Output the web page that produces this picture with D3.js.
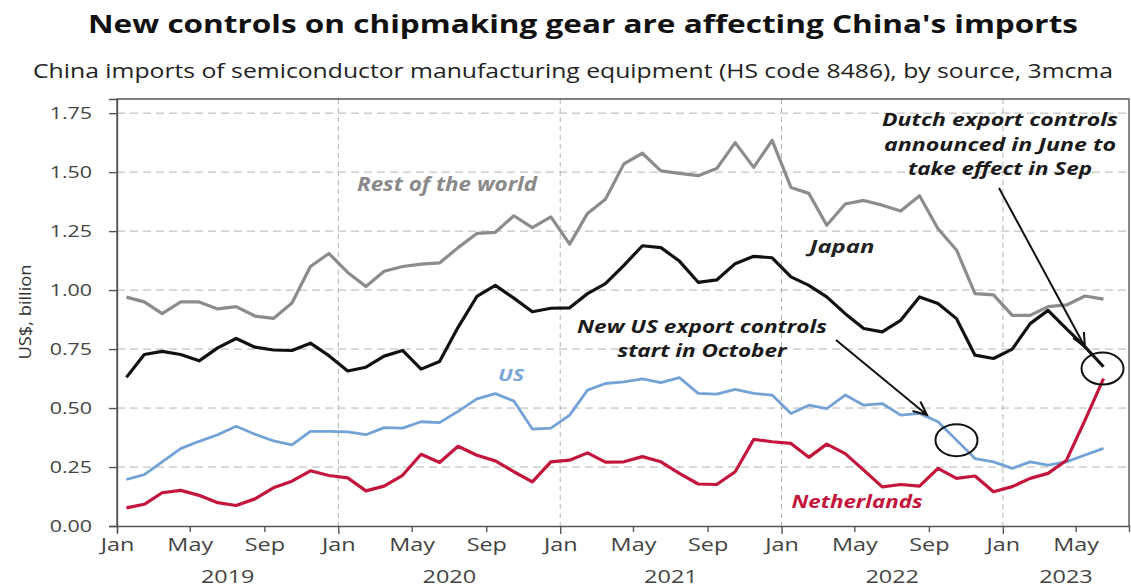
<!DOCTYPE html>
<html><head><meta charset="utf-8">
<script src="https://cdn.jsdelivr.net/npm/d3@7"></script>
<style>
body{margin:0;background:#fff;}
text{font-family:"Open Sans",sans-serif;}
</style>
</head><body>
<svg id="chart" width="1131" height="587"></svg>
<script>
// ---------- DATA ----------
const firstMonth = "2019-01";
const lastMonth = "2023-06";
const restOfWorld = [0.97,0.95,0.90,0.95,0.95,0.92,0.93,0.89,0.88,0.945,1.10,1.155,
  1.075,1.015,1.08,1.10,1.11,1.115,1.18,1.24,1.245,1.315,1.265,1.31,
  1.195,1.325,1.385,1.535,1.58,1.505,1.495,1.485,1.515,1.625,1.52,1.635,
  1.435,1.41,1.275,1.365,1.38,1.36,1.335,1.40,1.26,1.17,0.985,0.98,
  0.893,0.893,0.93,0.937,0.975,0.962];
const japan = [0.63,0.727,0.74,0.727,0.70,0.755,0.795,0.758,0.746,0.744,0.775,0.722,
  0.657,0.673,0.72,0.744,0.665,0.697,0.842,0.973,1.02,0.966,0.908,0.923,
  0.925,0.985,1.027,1.105,1.188,1.18,1.123,1.033,1.043,1.112,1.143,1.137,
  1.056,1.02,0.971,0.90,0.837,0.823,0.872,0.971,0.943,0.879,0.724,0.71,
  0.75,0.858,0.914,0.836,0.759,0.675];
const us = [0.197,0.218,0.272,0.328,0.359,0.387,0.423,0.389,0.361,0.344,0.401,0.401,
  0.399,0.387,0.417,0.415,0.442,0.438,0.486,0.539,0.561,0.530,0.411,0.415,
  0.470,0.576,0.604,0.611,0.624,0.608,0.629,0.562,0.559,0.579,0.562,0.555,
  0.477,0.512,0.498,0.555,0.512,0.519,0.470,0.477,0.442,0.364,0.286,0.272,
  0.244,0.272,0.258,0.272,0.301,0.329];
const netherlands = [0.077,0.092,0.141,0.151,0.130,0.099,0.087,0.115,0.162,0.190,0.234,0.214,
  0.204,0.149,0.169,0.215,0.304,0.269,0.338,0.300,0.276,0.230,0.187,0.272,
  0.279,0.310,0.271,0.272,0.294,0.272,0.223,0.178,0.176,0.230,0.367,0.357,
  0.350,0.291,0.347,0.307,0.237,0.166,0.176,0.169,0.244,0.202,0.212,0.145,
  0.167,0.202,0.223,0.279,0.449,0.625];
const yTicks = [0,0.25,0.5,0.75,1.0,1.25,1.5,1.75];
const xTickLabels = ["Jan","May","Sep"];
const yearLabels = ["2019","2020","2021","2022","2023"];
const titleText = "New controls on chipmaking gear are affecting China's imports";
const subtitleText = "China imports of semiconductor manufacturing equipment (HS code 8486), by source, 3mcma";
const yAxisTitle = "US$, billion";

// ---------- SETUP ----------
const svg = d3.select("#chart");
const parse = d3.utcParse("%Y-%m");
const months = d3.utcMonth.range(parse(firstMonth), d3.utcMonth.offset(parse(lastMonth),1));
const mid = d => new Date((+d + +d3.utcMonth.offset(d,1))/2);

const L = 117, R = 1129, T = 99, B = 526;
const x = d3.scaleUtc().domain([parse(firstMonth), new Date(Date.UTC(2023,6,28))]).range([L,R]);
const y = d3.scaleLinear().domain([0,1.81]).range([B,T]);

function stretch(sel, target){
  sel.each(function(){
    const w = this.getComputedTextLength();
    const tw = typeof target === "function" ? target(w) : target;
    d3.select(this).attr("textLength", tw).attr("lengthAdjust","spacingAndGlyphs");
  });
}

// grid
const g = svg.append("g");
g.selectAll("line.hg").data(yTicks.filter(v=>v>0)).join("line")
  .attr("x1",L).attr("x2",R).attr("y1",d=>y(d)).attr("y2",d=>y(d))
  .attr("stroke","#b4b4b4").attr("stroke-width",1).attr("stroke-dasharray","8,5");
const janTicks = d3.utcYear.range(d3.utcYear.offset(parse(firstMonth),1), x.domain()[1]);
g.selectAll("line.vg").data(janTicks).join("line")
  .attr("x1",d=>x(d)).attr("x2",d=>x(d)).attr("y1",T).attr("y2",B)
  .attr("stroke","#b4b4b4").attr("stroke-width",1).attr("stroke-dasharray","5,4");

// frame
svg.append("path").attr("d",`M${L},${B}V${T}H${R}V${B}`).attr("fill","none")
  .attr("stroke","#555").attr("stroke-width",1.4);

// lines
const line = d3.line().x((d,i)=>x(mid(months[i]))).y(d=>y(d));
const series = [
  {v:restOfWorld, c:"#8c8c8c", w:3.2},
  {v:japan, c:"#111111", w:3.2},
  {v:us, c:"#73a2d6", w:2.8},
  {v:netherlands, c:"#c4153c", w:3.2}
];
svg.append("g").selectAll("path").data(series).join("path")
  .attr("d",d=>line(d.v)).attr("fill","none").attr("stroke",d=>d.c)
  .attr("stroke-width",d=>d.w).attr("stroke-linejoin","round");

// y axis
const yAxis = svg.append("g").attr("transform",`translate(${L},0)`)
  .call(d3.axisLeft(y).tickValues(yTicks).tickFormat(d3.format(".2f")).tickSize(8).tickPadding(17));
yAxis.select(".domain").attr("stroke","#555").attr("stroke-width",1.4);
yAxis.selectAll(".tick line").attr("stroke","#555").attr("stroke-width",1.4);
yAxis.selectAll(".tick text").attr("font-size",17).attr("fill","#444").attr("font-family","Open Sans");
stretch(yAxis.selectAll(".tick text"), w=>w*1.26);

// x axis
const xTicks = d3.utcMonth.every(4).range(parse(firstMonth), x.domain()[1]);
const xAxis = svg.append("g").attr("transform",`translate(0,${B})`)
  .call(d3.axisBottom(x).tickValues(xTicks).tickFormat(d=>xTickLabels[d.getUTCMonth()/4]).tickSize(6).tickPadding(6));
xAxis.select(".domain").attr("stroke","#555").attr("stroke-width",1.4);
xAxis.selectAll(".tick line").attr("stroke","#555").attr("stroke-width",1.4)
  .attr("y2",d=>d.getUTCMonth()===0?8:6);
xAxis.selectAll(".tick text").attr("font-size",18).attr("fill","#444").attr("font-family","Open Sans");
stretch(xAxis.selectAll(".tick text"), w=>w*1.3);

// year labels
const yearStarts = yearLabels.map(t=>new Date(Date.UTC(+t,0,1)));
svg.append("g").selectAll("text").data(yearLabels).join("text")
  .attr("x",(d,i)=>{const a=x(yearStarts[i]); const b=Math.min(x(new Date(Date.UTC(+d+1,0,1))), R); return (a+b)/2;})
  .attr("y",583).attr("text-anchor","middle").attr("font-size",18).attr("fill","#444")
  .text(d=>d).call(s=>stretch(s,w=>w*1.3));

// titles
svg.append("text").attr("x",583).attr("y",33).attr("text-anchor","middle")
  .attr("font-size",25).attr("font-weight",700).attr("fill","#111").text(titleText)
  .call(s=>stretch(s,990));
svg.append("text").attr("x",573).attr("y",78).attr("text-anchor","middle")
  .attr("font-size",20).attr("fill","#222").text(subtitleText)
  .call(s=>stretch(s,1080));
svg.append("text").attr("transform","translate(31,312) rotate(-90)").attr("text-anchor","middle")
  .attr("font-size",17).attr("fill","#333").text(yAxisTitle).call(s=>stretch(s,95));

// series labels
const labels = [
  {t:"Rest of the world", x:447, y:191, c:"#8a8a8a", s:19, w:180},
  {t:"Japan", x:842, y:253, c:"#222", s:18, w:65},
  {t:"US", x:511, y:381, c:"#78a6da", s:16, w:26},
  {t:"Netherlands", x:857, y:508, c:"#c4153c", s:18.5, w:131}
];
labels.forEach(l=>{
  svg.append("text").attr("x",l.x).attr("y",l.y).attr("text-anchor","middle")
    .attr("font-size",l.s).attr("font-style","italic").attr("font-weight",700)
    .attr("fill",l.c).text(l.t).call(s=>stretch(s,l.w));
});

// annotations
const notes = [
  {t:"New US export controls", x:702, y:333, w:250},
  {t:"start in October", x:702, y:357, w:169},
  {t:"Dutch export controls", x:1000, y:126, w:236},
  {t:"announced in June to", x:1000, y:151, w:232},
  {t:"take effect in Sep", x:1000, y:175, w:184}
];
notes.forEach(n=>{
  svg.append("text").attr("x",n.x).attr("y",n.y).attr("text-anchor","middle")
    .attr("font-size",18.5).attr("font-style","italic").attr("font-weight",700)
    .attr("fill","#1a1a1a").text(n.t).call(s=>stretch(s,n.w));
});

function arrow(x1,y1,x2,y2){
  const a = Math.atan2(y2-y1,x2-x1), len = 15, sp = 0.42;
  const p1 = [x2 - len*Math.cos(a-sp), y2 - len*Math.sin(a-sp)];
  const p2 = [x2 - len*Math.cos(a+sp), y2 - len*Math.sin(a+sp)];
  svg.append("path").attr("d",`M${x1},${y1}L${x2},${y2}M${p1[0]},${p1[1]}L${x2},${y2}L${p2[0]},${p2[1]}`)
    .attr("fill","none").attr("stroke","#111").attr("stroke-width",2);
}
arrow(836,340,927,415);
arrow(999,188,1085,347);

// circles around the data points
const iUS = 45, iNL = 53;
svg.append("ellipse").attr("cx",x(mid(months[iUS]))).attr("cy",y(us[iUS]))
  .attr("rx",21).attr("ry",16).attr("fill","none").attr("stroke","#111").attr("stroke-width",2);
svg.append("ellipse").attr("cx",x(mid(months[iNL]))-1).attr("cy",y(netherlands[iNL])-10)
  .attr("rx",21).attr("ry",16).attr("fill","none").attr("stroke","#111").attr("stroke-width",2);
</script>
</body></html>
